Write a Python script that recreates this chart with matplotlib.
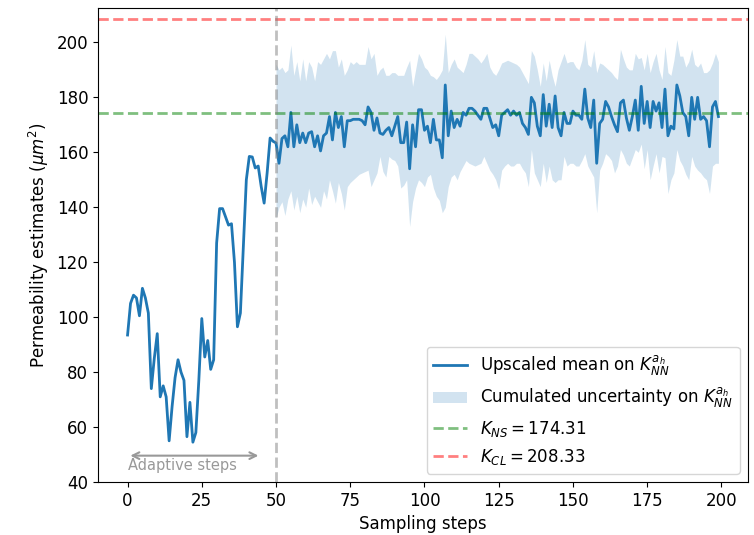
import numpy as np
from matplotlib import pyplot as plt

# upscaled mean per sampling step (0..199)
mean_k = [
    93.5, 105, 108, 107, 100.5, 110.5, 107, 101.5, 74, 85,
    94, 71, 75, 71, 55, 67.5, 78, 84.5, 80, 77,
    56.5, 69, 54.5, 58, 77, 99.5, 85.5, 91.5, 81, 84.5,
    127, 139.5, 139.5, 136.5, 133.5, 134, 120, 96.5, 101.5, 125.5,
    150, 158.5, 158.3, 154.3, 155, 147.6, 141.5, 152.4, 165.2, 164,
    163.4, 156, 165, 166, 162, 174.5, 162, 170, 163.5, 167,
    163.5, 167, 167.5, 162, 166, 160.5, 166, 167, 173, 164.5,
    174.5, 169, 173, 162, 171.5, 171.5, 172, 172, 172, 171.5,
    170, 176.5, 174.5, 168, 172.5, 167, 166.5, 168, 169, 166,
    169.5, 173, 163.5, 163.5, 171, 154, 170, 162, 175.5, 175.5,
    168, 169.5, 163.5, 172, 164.5, 164.5, 158, 184.5, 166, 175,
    169, 172, 169.5, 174.5, 173.5, 176, 176, 175, 173.5, 172,
    176, 176, 172.5, 169, 170, 166, 173.5, 174.5, 175.5, 173.5,
    175, 173.5, 174.5, 170.5, 169, 166.5, 180, 178, 169.5, 166,
    181, 169.5, 177.5, 169, 180.5, 169, 166, 174.5, 170.5, 170.5,
    175, 173.5, 173.5, 172, 183, 172.5, 169, 179, 156, 170.5,
    172, 178.5, 176.5, 173, 170, 167.5, 178, 179, 172.5, 168,
    173, 179, 168, 184, 170.5, 178.5, 169, 178.5, 175, 178,
    169, 183, 166, 169.5, 168.5, 184.5, 180.5, 174.5, 173, 166,
    180, 172, 180, 172, 173, 171.5, 162, 176.5, 178.5, 173,
]

# uncertainty band, steps 50..199
band_upper = [
    192, 190, 191, 189, 190, 199, 188, 193, 186, 194, 186, 193, 191, 186, 193, 192,
    194, 196, 194, 197, 197, 191, 194, 188, 190, 193, 192, 193, 192, 192, 192, 198.5,
    194, 196, 188, 190, 191, 188, 188, 189, 189, 188, 188,
    188, 191, 193.5, 184, 190, 196, 194, 191, 190, 188, 187.5, 186.5, 188, 190, 203,
    189, 192, 194, 191, 190, 189, 192, 196, 196, 195, 194, 192.5,
    194, 196, 191, 189, 188, 190, 192.5, 193, 193.5, 193, 192.5, 192, 191, 189, 187,
    185, 197, 195, 190, 184, 192.5, 186, 193.5, 188, 184, 190, 193,
    196, 192.5, 193, 193, 191, 190, 193.5, 201, 192, 191, 197, 189, 192.5, 192, 191,
    190, 189, 187.5, 186.5, 197.5, 194, 191, 190, 190, 196, 194, 194.5,
    190, 196, 189, 193, 196, 190, 186.5, 198.5, 189, 188, 193.5, 201, 195, 195, 191,
    193, 197.5, 192, 191, 192.5, 189, 189, 190, 192.5, 196, 193,
]
band_lower = [
    136, 140, 142, 137, 143, 146, 139, 144, 138, 143, 140, 147, 141, 144, 142, 140,
    146, 143, 150, 146, 141.5, 149, 145, 139, 147.5, 149, 150, 151, 152, 152.5, 153, 153.5,
    147.5, 150, 152.5, 158.5, 153, 151, 158.5, 157.5, 157, 155, 147,
    148, 150, 133, 142, 147, 150, 149, 147.5, 151, 152, 147, 144, 142.5, 138, 140,
    147.5, 151, 152, 150, 153, 155, 157, 156, 155.5, 155, 155.5, 156,
    158.5, 156, 153.5, 152, 150, 146.5, 153.5, 155, 156, 155, 155, 156, 156, 154, 152.5,
    147.5, 161, 152.5, 150, 147.5, 156, 149, 155, 150, 149, 150, 150,
    158.5, 155, 156, 156, 155, 155, 157, 159.5, 155, 153, 151, 138, 153.5, 156, 159.5,
    158.5, 157, 152.5, 155, 161, 159, 156, 155, 158, 161, 160, 163,
    154, 161, 150, 155, 159.5, 152.5, 158.5, 158, 145, 150, 152.5, 161, 157, 155, 152,
    150, 158.5, 155, 153.5, 152.5, 151, 150, 145, 155, 156, 156,
]

k_ns = 174.31
k_cl = 208.33
n_adaptive = 50

steps = np.arange(len(mean_k))
band_steps = np.arange(n_adaptive, n_adaptive + len(band_upper))

plt.rcParams['font.size'] = 12
fig = plt.figure(figsize=(7.54, 5.35), dpi=100)
ax = fig.add_axes([0.130, 0.099, 0.862, 0.886])

ax.plot(steps, mean_k, color='tab:blue', lw=2, label=r'Upscaled mean on $K_{NN}^{a_h}$')
ax.fill_between(band_steps, band_lower, band_upper, color='tab:blue', alpha=0.2, lw=0,
                label=r'Cumulated uncertainty on $K_{NN}^{a_h}$')
ax.axhline(k_ns, color='g', ls='--', lw=2, alpha=0.5, label=r'$K_{NS} = %.2f$' % k_ns)
ax.axhline(k_cl, color='r', ls='--', lw=2, alpha=0.5, label=r'$K_{CL} = %.2f$' % k_cl)
ax.axvline(n_adaptive, color='gray', ls='--', lw=2, alpha=0.5)

ax.annotate('', xy=(0, 49.6), xytext=(45, 49.6),
            arrowprops=dict(arrowstyle='<->', color='#999999', lw=1.5))
ax.text(0, 46, 'Adaptive steps', color='#999999', fontsize=10.5, ha='left', va='center')

ax.set_ylim(40, 212.5)
ax.set_xlabel('Sampling steps')
ax.set_ylabel(r'Permeability estimates ($\mu m^2$)')
ax.legend(loc='lower right')

fig.savefig('out.png')
